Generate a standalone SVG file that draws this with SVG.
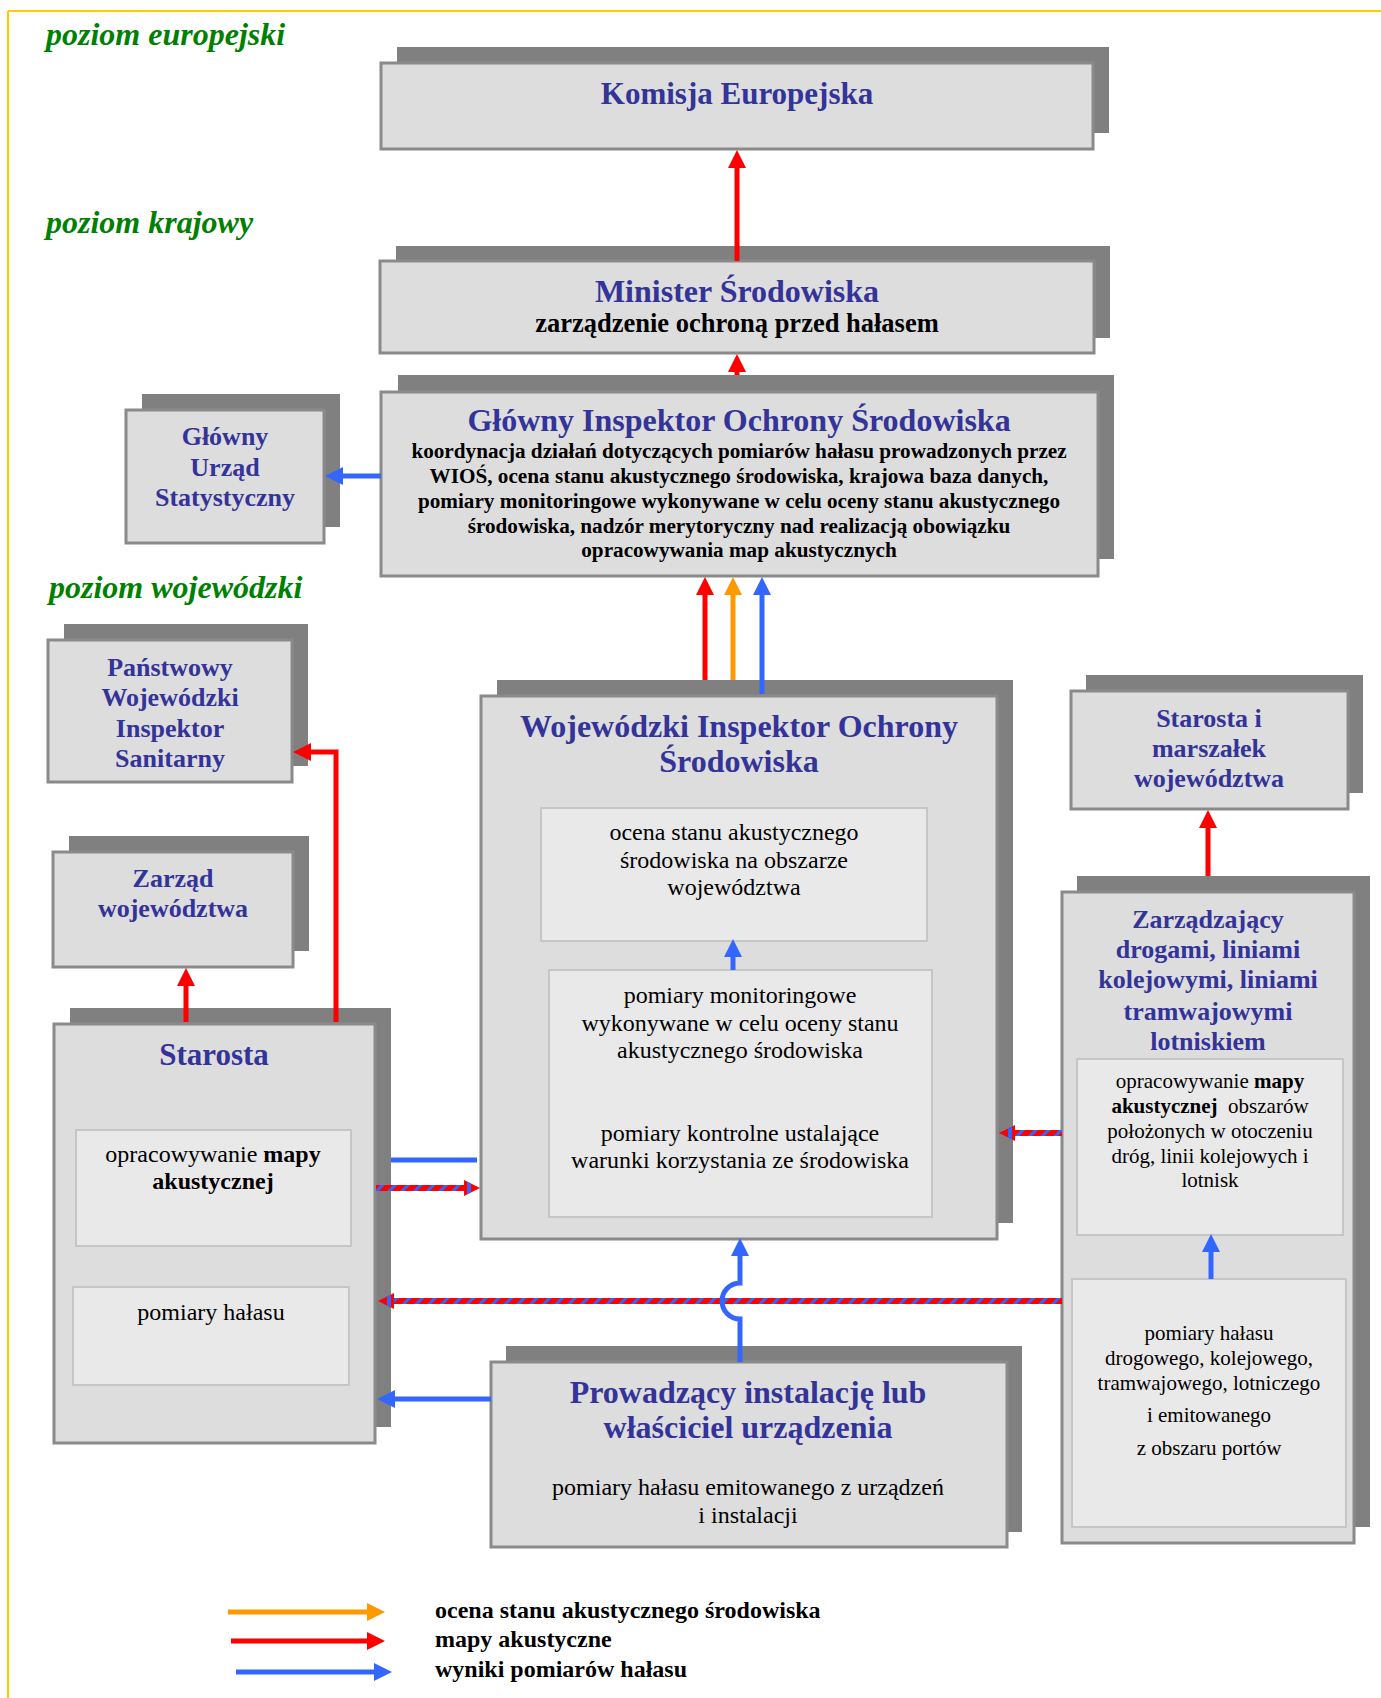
<svg xmlns="http://www.w3.org/2000/svg" width="1381" height="1698" viewBox="0 0 1381 1698">
<style>
.sh{fill:#808080}
.bx{fill:#dddddd;stroke:#8a8a8a;stroke-width:3}
.in{fill:#e9e9e9;stroke:#c6c6c6;stroke-width:2}
text{font-family:"Liberation Serif","Times New Roman",serif}
.c{text-anchor:middle}
.ti{fill:#333399;font-weight:bold}
.bk{fill:#000;font-weight:bold}
.rg{fill:#000}
.b{font-weight:bold}
.lvl{fill:#008000;font-style:italic;font-weight:bold;font-size:32px}
.red{stroke:#ff0000;stroke-width:5;fill:none}
.org{stroke:#ff9900;stroke-width:5;fill:none}
.blu{stroke:#3366ff;stroke-width:5;fill:none}
.str{stroke:url(#stripe);stroke-width:6;fill:none}
</style>
<defs>
<marker id="mr" markerUnits="userSpaceOnUse" markerWidth="18" markerHeight="18" viewBox="0 0 18 18" refX="1" refY="9" orient="auto"><path d="M0,0L18,9L0,18z" fill="#ff0000"/></marker>
<marker id="mo" markerUnits="userSpaceOnUse" markerWidth="18" markerHeight="18" viewBox="0 0 18 18" refX="1" refY="9" orient="auto"><path d="M0,0L18,9L0,18z" fill="#ff9900"/></marker>
<marker id="mb" markerUnits="userSpaceOnUse" markerWidth="18" markerHeight="18" viewBox="0 0 18 18" refX="1" refY="9" orient="auto"><path d="M0,0L18,9L0,18z" fill="#3366ff"/></marker>
<marker id="ms" markerUnits="userSpaceOnUse" markerWidth="16" markerHeight="16" viewBox="0 0 16 16" refX="1" refY="8" orient="auto"><path d="M0,0L16,8L0,16z" fill="#ff0000"/><path d="M3,1.5L7,3.5L7,12.5L3,14.5z" fill="#3366ff"/></marker>
<pattern id="stripe" patternUnits="userSpaceOnUse" width="9" height="9" patternTransform="rotate(45)"><rect width="9" height="9" fill="#ff0000"/><rect width="3" height="9" fill="#3366ff"/></pattern>
</defs>
<rect width="1381" height="1698" fill="#ffffff"/>
<g id="frame">
<line x1="8" y1="11" x2="1381" y2="11" stroke="#ffcc00" stroke-width="2"/>
<line x1="8" y1="11" x2="8" y2="1698" stroke="#ffcc00" stroke-width="2"/>
</g>
<g id="levels">
<text class="lvl" x="46" y="45">poziom europejski</text>
<text class="lvl" x="46" y="233">poziom krajowy</text>
<text class="lvl" x="49" y="598">poziom wojewódzki</text>
</g>

<g id="komisja">
<rect class="sh" x="397" y="47" width="712" height="86"/>
<rect class="bx" x="381" y="63" width="712" height="86"/>
<text class="c ti" x="737" y="104" font-size="31">Komisja Europejska</text>
</g>

<g id="minister">
<rect class="sh" x="396" y="246" width="714" height="92"/>
<rect class="bx" x="380" y="261" width="714" height="92"/>
<text class="c ti" x="737" y="302" font-size="32">Minister Środowiska</text>
<text class="c bk" x="737" y="332" font-size="26.5">zarządzenie ochroną przed hałasem</text>
</g>

<g id="gios">
<rect class="sh" x="398" y="375" width="716" height="184"/>
<rect class="bx" x="381" y="392" width="717" height="184"/>
<text class="c ti" x="739" y="431" font-size="32">Główny Inspektor Ochrony Środowiska</text>
<text class="c bk" x="739" font-size="21.2"><tspan x="739" y="458">koordynacja działań dotyczących pomiarów hałasu prowadzonych przez</tspan><tspan x="739" y="483">WIOŚ, ocena stanu akustycznego środowiska, krajowa baza danych,</tspan><tspan x="739" y="508">pomiary monitoringowe wykonywane w celu oceny stanu akustycznego</tspan><tspan x="739" y="533">środowiska, nadzór merytoryczny nad realizacją obowiązku</tspan><tspan x="739" y="557">opracowywania map akustycznych</tspan></text>
</g>

<g id="gus">
<rect class="sh" x="142" y="394" width="198" height="133"/>
<rect class="bx" x="126" y="410" width="198" height="133"/>
<text class="c ti" font-size="26"><tspan x="225" y="445">Główny</tspan><tspan x="225" y="476">Urząd</tspan><tspan x="225" y="506">Statystyczny</tspan></text>
</g>

<g id="pwis">
<rect class="sh" x="64" y="624" width="244" height="142"/>
<rect class="bx" x="48" y="640" width="244" height="142"/>
<text class="c ti" font-size="26"><tspan x="170" y="676">Państwowy</tspan><tspan x="170" y="706">Wojewódzki</tspan><tspan x="170" y="737">Inspektor</tspan><tspan x="170" y="767">Sanitarny</tspan></text>
</g>

<g id="zarzad">
<rect class="sh" x="69" y="836" width="240" height="115"/>
<rect class="bx" x="53" y="852" width="240" height="115"/>
<text class="c ti" font-size="26"><tspan x="173" y="887">Zarząd</tspan><tspan x="173" y="917">województwa</tspan></text>
</g>

<g id="starosta">
<rect class="sh" x="70" y="1008" width="321" height="419"/>
<rect class="bx" x="54" y="1024" width="321" height="419"/>
<text class="c ti" x="214" y="1065" font-size="31">Starosta</text>
<rect class="in" x="76" y="1130" width="275" height="116"/>
<text class="c rg" font-size="24"><tspan x="213" y="1162">opracowywanie <tspan class="b">mapy</tspan></tspan><tspan class="b" x="213" y="1189">akustycznej</tspan></text>
<rect class="in" x="73" y="1287" width="276" height="98"/>
<text class="c rg" x="211" y="1320" font-size="24">pomiary hałasu</text>
</g>

<g id="wios">
<rect class="sh" x="497" y="680" width="516" height="543"/>
<rect class="bx" x="481" y="696" width="516" height="543"/>
<text class="c ti" font-size="32"><tspan x="739" y="737">Wojewódzki Inspektor Ochrony</tspan><tspan x="739" y="772">Środowiska</tspan></text>
<rect class="in" x="541" y="808" width="386" height="133"/>
<text class="c rg" font-size="24"><tspan x="734" y="840">ocena stanu akustycznego</tspan><tspan x="734" y="868">środowiska na obszarze</tspan><tspan x="734" y="895">województwa</tspan></text>
<rect class="in" x="549" y="970" width="383" height="247"/>
<text class="c rg" font-size="24"><tspan x="740" y="1003">pomiary monitoringowe</tspan><tspan x="740" y="1031">wykonywane w celu oceny stanu</tspan><tspan x="740" y="1058">akustycznego środowiska</tspan><tspan x="740" y="1141">pomiary kontrolne ustalające</tspan><tspan x="740" y="1168">warunki korzystania ze środowiska</tspan></text>
</g>

<g id="starosta-marszalek">
<rect class="sh" x="1086" y="675" width="277" height="118"/>
<rect class="bx" x="1071" y="691" width="277" height="118"/>
<text class="c ti" font-size="26"><tspan x="1209" y="727">Starosta i</tspan><tspan x="1209" y="757">marszałek</tspan><tspan x="1209" y="787">województwa</tspan></text>
</g>

<g id="zarzadzajacy">
<rect class="sh" x="1077" y="876" width="293" height="651"/>
<rect class="bx" x="1062" y="892" width="292" height="651"/>
<text class="c ti" font-size="26"><tspan x="1208" y="928">Zarządzający</tspan><tspan x="1208" y="958">drogami, liniami</tspan><tspan x="1208" y="988">kolejowymi, liniami</tspan><tspan x="1208" y="1020">tramwajowymi</tspan><tspan x="1208" y="1050">lotniskiem</tspan></text>
<rect class="in" x="1077" y="1059" width="266" height="176"/>
<text class="c rg" font-size="21"><tspan x="1210" y="1088">opracowywanie <tspan class="b">mapy</tspan></tspan><tspan x="1210" y="1113"><tspan class="b">akustycznej</tspan>&#160; obszarów</tspan><tspan x="1210" y="1138">położonych w otoczeniu</tspan><tspan x="1210" y="1163">dróg, linii kolejowych i</tspan><tspan x="1210" y="1187">lotnisk</tspan></text>
<rect class="in" x="1072" y="1279" width="274" height="248"/>
<text class="c rg" font-size="21"><tspan x="1209" y="1340">pomiary hałasu</tspan><tspan x="1209" y="1365">drogowego, kolejowego,</tspan><tspan x="1209" y="1390">tramwajowego, lotniczego</tspan><tspan x="1209" y="1422">i emitowanego</tspan><tspan x="1209" y="1455">z obszaru portów</tspan></text>
</g>

<g id="prowadzacy">
<rect class="sh" x="506" y="1346" width="516" height="186"/>
<rect class="bx" x="491" y="1362" width="516" height="185"/>
<text class="c ti" font-size="32"><tspan x="748" y="1403">Prowadzący instalację lub</tspan><tspan x="748" y="1438">właściciel urządzenia</tspan></text>
<text class="c rg" font-size="24"><tspan x="748" y="1495">pomiary hałasu emitowanego z urządzeń</tspan><tspan x="748" y="1523">i instalacji</tspan></text>
</g>

<g id="connectors">
<path class="red" d="M737,261V167" marker-end="url(#mr)"/>
<path class="red" d="M737,375V371" marker-end="url(#mr)"/>
<path class="red" d="M705,680V594" marker-end="url(#mr)"/>
<path class="org" d="M733,680V594" marker-end="url(#mo)"/>
<path class="blu" d="M762,694V594" marker-end="url(#mb)"/>
<path class="blu" d="M381,476H342" marker-end="url(#mb)"/>
<path class="red" d="M336,1022V752H310" marker-end="url(#mr)"/>
<path class="red" d="M186,1022V985" marker-end="url(#mr)"/>
<path class="red" d="M1208,876V827" marker-end="url(#mr)"/>
<path class="blu" d="M733,970V956" marker-end="url(#mb)"/>
<path class="blu" d="M1211,1279V1251" marker-end="url(#mb)"/>
<path class="blu" d="M391,1160H477"/>
<path class="str" d="M376,1188H465" marker-end="url(#ms)"/>
<path class="str" d="M1062,1133H1014" marker-end="url(#ms)"/>
<path class="str" d="M1062,1301H393" marker-end="url(#ms)"/>
<path class="blu" d="M740,1362V1319A18,18 0 0 1 740,1283V1255" marker-end="url(#mb)"/>
<path class="blu" d="M491,1399H394" marker-end="url(#mb)"/>
</g>

<g id="legend">
<path class="org" stroke-width="6" d="M228,1612H368" marker-end="url(#mo)"/>
<path class="red" stroke-width="6" d="M231,1641H368" marker-end="url(#mr)"/>
<path class="blu" stroke-width="6" d="M236,1672H375" marker-end="url(#mb)"/>
<text class="bk" x="435" y="1618" font-size="24">ocena stanu akustycznego środowiska</text>
<text class="bk" x="435" y="1647" font-size="24">mapy akustyczne</text>
<text class="bk" x="435" y="1677" font-size="24">wyniki pomiarów hałasu</text>
</g>
</svg>
